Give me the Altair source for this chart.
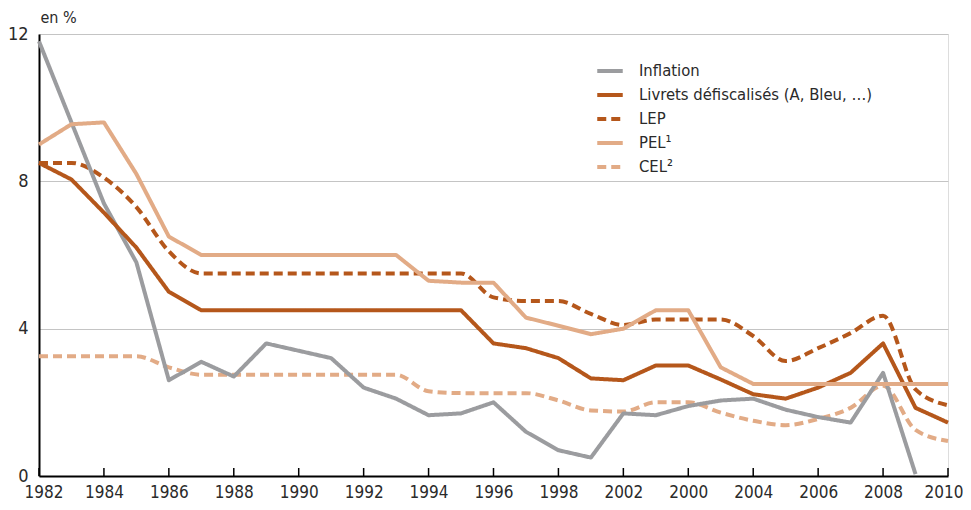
import altair as alt
import pandas as pd

years = list(range(1982, 2011))
series_names = ["Inflation", "Livrets défiscalisés (A, Bleu, …)", "LEP", "PEL¹", "CEL²"]

inflation = [11.8, 9.6, 7.4, 5.8, 2.6, 3.1, 2.7, 3.6, 3.4, 3.2, 2.4, 2.1, 1.65, 1.7,
             2.0, 1.2, 0.7, 0.5, 1.7, 1.65, 1.9, 2.05, 2.1, 1.8, 1.6, 1.45, 2.8, 0.05]
livrets = [8.5, 8.05, 7.15, 6.2, 5.0] + [4.5] * 9 + [3.6, 3.47, 3.2, 2.65, 2.6, 3.0, 3.0,
           2.62, 2.22, 2.1, 2.4, 2.8, 3.6, 1.85, 1.45]
lep = [8.5, 8.5, 8.1, 7.3, 6.1] + [5.5] * 9 + [4.85, 4.75, 4.75, 4.4, 4.1, 4.25, 4.25,
       4.25, 3.8, 3.12, 3.47, 3.88, 4.35, 2.35, 1.92]
pel = [9.0, 9.55, 9.6, 8.2, 6.5] + [6.0] * 7 + [5.3, 5.25, 5.25, 4.3, 4.08, 3.85, 4.0,
       4.5, 4.5, 2.95, 2.5, 2.5, 2.5, 2.5, 2.5, 2.5, 2.5]
cel = [3.25, 3.25, 3.25, 3.25, 2.95] + [2.75] * 7 + [2.3, 2.25, 2.25, 2.25, 2.05, 1.78,
       1.75, 2.0, 2.0, 1.72, 1.5, 1.38, 1.55, 1.85, 2.45, 1.25, 0.95]

tick_years = list(range(1982, 2011, 2))
tick_labels = ["1982", "1984", "1986", "1988", "1990", "1992", "1994", "1996", "1998",
               "2002", "2000", "2004", "2006", "2008", "2010"]
y_ticks = [0, 4, 8, 12]

colors = ["#9b9c9f", "#b5571b", "#b5571b", "#e2ab86", "#e2ab86"]
dashes = [[1, 0], [1, 0], [9, 5], [1, 0], [9, 5]]

rows = []
for name, vals in zip(series_names, [inflation, livrets, lep, pel, cel]):
    for y, v in zip(years, vals):
        rows.append({"year": y, "value": v, "series": name})
df = pd.DataFrame(rows)

label_expr = " : ".join(
    f"datum.value == {y} ? '{l}'" for y, l in zip(tick_years, tick_labels)
) + " : ''"

FONT = "DejaVu Sans Condensed, Liberation Sans Narrow, sans-serif"
TXT = "#2a2a2a"
W, H = 909, 442

x_enc = alt.X("year:Q", scale=alt.Scale(domain=[1982, 2010], nice=False, zero=False),
              axis=alt.Axis(values=tick_years, labelExpr=label_expr, title=None,
                            grid=False, ticks=False, domainColor="#000", domainWidth=2,
                            labelFontSize=17, labelColor=TXT, labelPadding=8,
                            labelFont=FONT, labelFlush=True, labelFlushOffset=15))
y_enc = alt.Y("value:Q", scale=alt.Scale(domain=[0, 12], nice=False),
              axis=alt.Axis(values=y_ticks, title="en %", titleAngle=0, titleAlign="left",
                            titleX=1, titleY=-9, titleFontWeight="normal",
                            titleFontSize=16, titleFont=FONT, titleColor=TXT,
                            ticks=False, domainColor="#000", domainWidth=2,
                            gridColor="#c4c4c4", gridWidth=1,
                            labelFontSize=18, labelColor=TXT, labelPadding=11,
                            labelFont=FONT))

color_scale = alt.Scale(domain=series_names, range=colors)
dash_scale = alt.Scale(domain=series_names, range=dashes)

legend = alt.Legend(title=None, orient="none", legendX=556, legendY=22,
                    symbolType="stroke", symbolSize=650, symbolStrokeWidth=4,
                    labelFontSize=16.5, labelFont=FONT, labelColor=TXT,
                    rowPadding=0, labelOffset=14, labelLimit=400)

base = alt.Chart(df)

lines_linear = base.transform_filter(
    alt.FieldOneOfPredicate(field="series", oneOf=[series_names[0], series_names[1], series_names[3]])
).mark_line(strokeWidth=4, interpolate="linear", strokeCap="butt", strokeJoin="round").encode(
    x=x_enc, y=y_enc,
    color=alt.Color("series:N", scale=color_scale, legend=legend, sort=series_names),
    strokeDash=alt.StrokeDash("series:N", scale=dash_scale, legend=legend, sort=series_names),
    order=alt.Order("year:Q"),
)

lines_smooth = base.transform_filter(
    alt.FieldOneOfPredicate(field="series", oneOf=[series_names[2], series_names[4]])
).mark_line(strokeWidth=4, interpolate="monotone", strokeCap="butt").encode(
    x=x_enc, y=y_enc,
    color=alt.Color("series:N", scale=color_scale, legend=legend, sort=series_names),
    strokeDash=alt.StrokeDash("series:N", scale=dash_scale, legend=legend, sort=series_names),
    order=alt.Order("year:Q"),
)

ticks_df = pd.DataFrame({"year": tick_years})
ticks = alt.Chart(ticks_df).mark_rule(color="#000", strokeWidth=1.5).encode(
    x=alt.X("year:Q", scale=alt.Scale(domain=[1982, 2010], nice=False, zero=False)),
    y=alt.value(H - 8), y2=alt.value(H),
)

chart = alt.layer(ticks, lines_smooth, lines_linear).properties(
    width=W, height=H,
    autosize=alt.AutoSizeParams(type="none"),
    padding={"left": 31, "top": 26, "right": 15, "bottom": 26},
).configure_view(stroke=None).configure(font=FONT, background="white")

chart.save("out.html", embed_options={"renderer": "svg", "actions": False})
